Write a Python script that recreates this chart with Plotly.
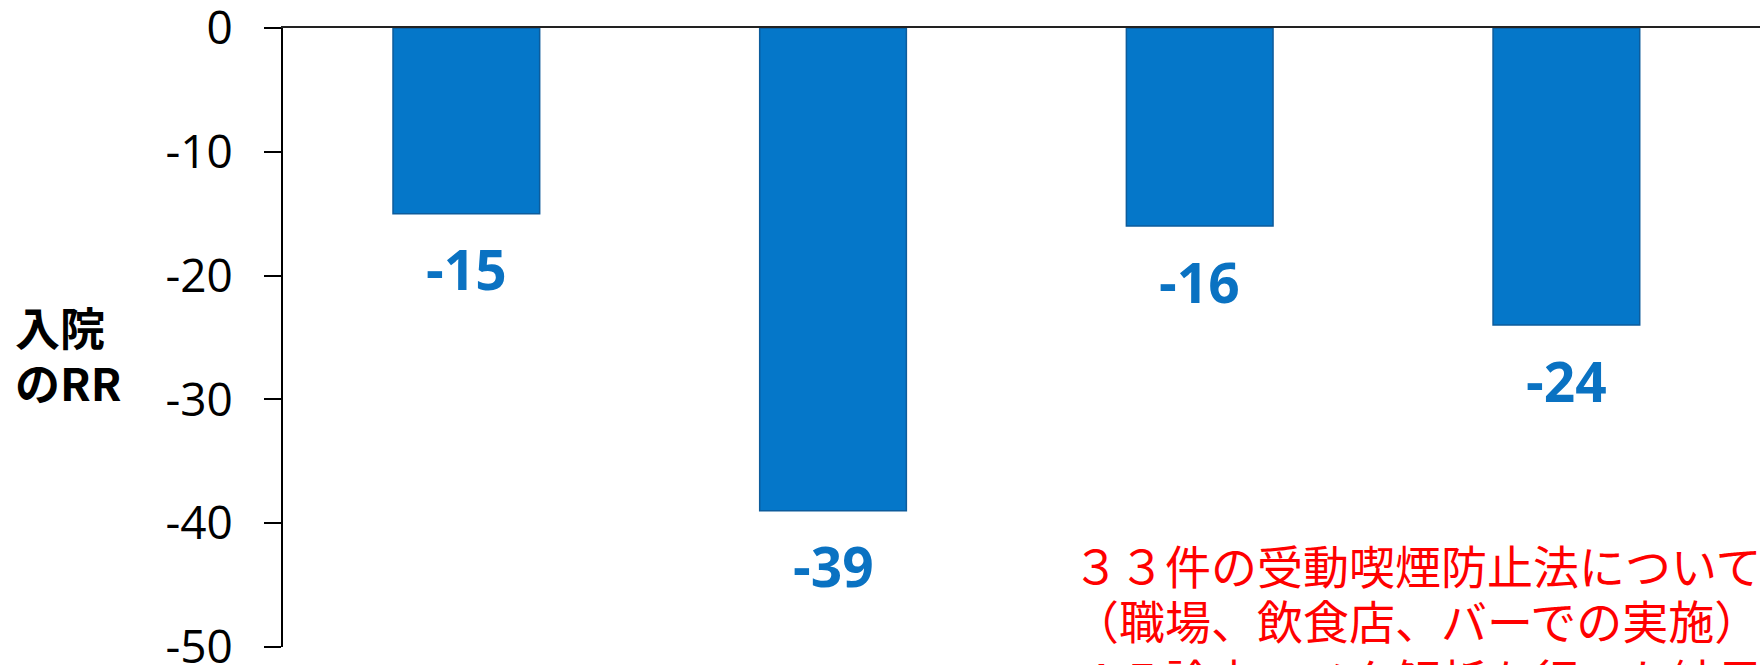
import plotly.graph_objects as go

categories = ["A", "B", "C", "D"]
values = [-15, -39, -16, -24]
value_labels = ["-15", "-39", "-16", "-24"]
y_ticks = [0, -10, -20, -30, -40, -50]
y_tick_labels = ["0", "-10", "-20", "-30", "-40", "-50"]
y_title_lines = ["入院", "のRR"]
note_lines = ["３３件の受動喫煙防止法について", "（職場、飲食店、バーでの実施）", "４５論文のメタ解析を行った結果"]

W, H = 1760, 665
ML, MR, MT, MB = 283, 0, 28, 18
plot_w = W - ML - MR
plot_h = H - MT - MB


def py(px):
    return (H - MB - px) / plot_h


def pxx(px):
    return (px - ML) / plot_w


fig = go.Figure()
fig.add_trace(go.Bar(
    x=categories, y=values, width=0.4,
    marker=dict(color="#0577C9", line=dict(color="#0D5C9C", width=1.5)),
    hoverinfo="skip",
))

ann = []
for c, v, t in zip(categories, values, value_labels):
    ann.append(dict(x=c, y=v, xref="x", yref="y", text=t, showarrow=False,
                    yanchor="middle", yshift=-55,
                    font=dict(family="Open Sans", size=55, color="#0A72C2", weight="bold")))

# y axis title (two lines)
for line, cy in zip(y_title_lines, [326, 381]):
    ann.append(dict(x=pxx(13), y=py(cy), xref="paper", yref="paper",
                    text="<b>%s</b>" % line, showarrow=False,
                    xanchor="left", yanchor="middle", align="left",
                    font=dict(family="Noto Sans CJK JP", size=45, color="black")))

# red note (three lines, last one cut by the page edge)
for line, cy in zip(note_lines, [564, 619, 678]):
    ann.append(dict(x=pxx(1071), y=py(cy), xref="paper", yref="paper",
                    text=line, showarrow=False,
                    xanchor="left", yanchor="middle", align="left",
                    font=dict(family="Noto Sans CJK JP", size=46, color="#FF0000")))

fig.update_layout(
    width=W, height=H,
    margin=dict(l=ML, r=MR, t=MT, b=MB, pad=0, autoexpand=False),
    paper_bgcolor="white", plot_bgcolor="white",
    showlegend=False,
    annotations=ann,
    xaxis=dict(type="category", range=[-0.5, 3.528], side="top", automargin=False,
               showticklabels=False, ticks="", showgrid=False, zeroline=False,
               showline=True, linecolor="#222222", linewidth=2),
    yaxis=dict(range=[-50, 0], tickvals=y_ticks, ticktext=y_tick_labels, automargin=False,
               ticks="outside", ticklen=17, tickwidth=2, tickcolor="black",
               showline=True, linecolor="black", linewidth=2,
               showgrid=False, zeroline=False, ticklabelstandoff=22,
               ticklabeloverflow="allow",
               tickfont=dict(family="Open Sans", size=46, color="black")),
)

fig.write_html("out.html", config={"displayModeBar": False},
               post_script="document.body.style.margin='0';document.body.style.overflow='hidden';")
